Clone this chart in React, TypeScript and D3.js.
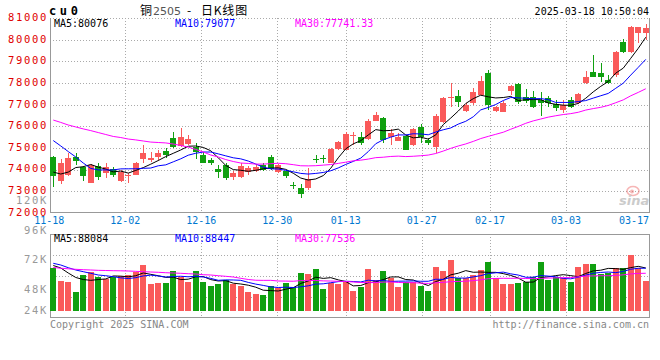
import React from 'react';
import * as d3 from 'd3';

// daily K-line, cu2505, 11-18 .. 03-18
const open = [
  74590, 73450, 73750, 74590, 74110, 73360, 74170, 73850, 74040, 73450,
  73700, 73760, 74470, 74430, 74590, 74870, 75440, 75090, 75180, 75030,
  74670, 74440, 74010, 74210, 73660, 73640, 73900, 73950, 74210, 74590,
  73900, 73940, 73280, 73130, 73130, 74500, 74510, 74290, 74940, 74900,
  75580, 75520, 75400, 76260, 76370, 75490, 75330, 75550, 75130, 75980,
  75370, 75060, 76210, 77330, 77400, 76720, 77070, 77450, 78480, 76720,
  76680, 77650, 77960, 77340, 77340, 77220, 77300, 77030, 76750, 77220,
  77070, 77990, 78530, 78480, 78140, 78380, 79920, 79450, 80310, 80300,
];
const high = [
  74640, 74470, 74750, 74750, 74150, 74250, 74290, 74310, 74110, 74000,
  73860, 74330, 75130, 74820, 74900, 74980, 75750, 75900, 75600, 75210,
  74800, 74520, 74210, 74290, 73920, 74290, 74150, 74200, 74310, 74670,
  74250, 73980, 73400, 73330, 74050, 74670, 74660, 74980, 75330, 75750,
  75750, 75750, 76350, 76680, 76450, 75860, 75700, 75600, 75900, 76110,
  75450, 76550, 77350, 77990, 77680, 77070, 77760, 78330, 78610, 76950,
  77150, 77910, 78000, 77710, 77650, 77600, 77400, 77220, 77220, 77350,
  77560, 78570, 79300, 78940, 78380, 79500, 80020, 80650, 80620, 80750,
];
const low = [
  73210, 73330, 73700, 74210, 73480, 73360, 73510, 73620, 73650, 73400,
  73380, 73750, 74290, 74330, 74400, 74520, 74980, 75060, 75150, 74470,
  74290, 74210, 73590, 73510, 73520, 73600, 73750, 73900, 73950, 73980,
  73850, 73590, 73080, 72700, 73050, 74290, 74300, 74290, 74900, 74880,
  75130, 75130, 75350, 76250, 75210, 75130, 75300, 74880, 75100, 75210,
  75150, 74750, 76150, 76900, 76900, 76650, 77000, 77400, 76750, 76650,
  76650, 77450, 77050, 77100, 76850, 76480, 76900, 76720, 76600, 76850,
  77030, 77950, 78270, 78060, 77950, 78300, 79400, 79380, 79850, 80000,
];
const close = [
  73700, 74290, 74540, 74410, 73710, 74210, 73670, 74110, 73745, 73900,
  73740, 74300, 74750, 74540, 74750, 74650, 75060, 75520, 75410, 74800,
  74320, 74290, 73900, 73620, 73850, 74160, 74050, 74130, 73980, 74010,
  74210, 73700, 73230, 72870, 73550, 74460, 74480, 74930, 75290, 75630,
  75610, 75210, 76260, 76520, 75370, 75680, 75520, 74900, 75860, 75520,
  75240, 76480, 77300, 77370, 77140, 76990, 77600, 78100, 76990, 76880,
  77090, 77860, 77140, 77190, 76910, 77070, 77090, 76830, 76990, 76880,
  77500, 78300, 78300, 78270, 77990, 79450, 79450, 80580, 80580, 80560,
];
const volume = [
  66050, 55290, 54480, 46380, 60140, 62810, 58520, 56900, 58520, 59330,
  60140, 62810, 68240, 52860, 53670, 53670, 63380, 58520, 54480, 63380,
  54480, 51240, 52860, 56090, 52860, 51240, 46380, 44760, 43950, 51240,
  49620, 53670, 50430, 61760, 60950, 65000, 48810, 53420, 52860, 54230,
  47430, 50190, 65000, 56090, 63380, 57960, 50670, 54230, 54230, 51480,
  47430, 66860, 63380, 72280, 57960, 57960, 60140, 64430, 70910, 57960,
  52860, 52860, 53670, 54230, 58520, 70910, 56090, 58520, 57960, 54720,
  66620, 69040, 69040, 60710, 62000, 65810, 65810, 76330, 65810, 55290,
];

// averages before a full window exists (earlier sessions are off the chart)
const ma5Head = [73880, 73790, 73880, 74090];
const ma10Head = [75340, 75090, 74830, 74580, 74300, 74050, 73980, 73980, 73980];
const ma30Head = [
  76290, 76180, 76060, 75970, 75880, 75800, 75710, 75620, 75530, 75480,
  75410, 75370, 75320, 75270, 75250, 75230, 75180, 75110, 75040, 74930,
  74810, 74670, 74580, 74460, 74370, 74300, 74280, 74250, 74250,
];
const vma5Head = [67830, 65810, 61760, 58120];
const vma10Head = [69610, 68240, 66050, 64190, 62810, 61520, 60140, 59570, 58770];
const vma30Head = [
  66210, 65650, 65160, 64750, 64430, 64190, 63920, 63780, 63620, 63540,
  63380, 63110, 62810, 62570, 62330, 62000, 61760, 61520, 61190, 60950,
  60380, 60140, 59570, 59090, 58520, 57470, 56500, 55900, 55800,
];

const dateLabels = ['11-18', '12-02', '12-16', '12-30', '01-13', '01-27', '02-17', '03-03', '03-17'];
const dateIndex = [0, 10, 20, 30, 39, 49, 58, 68, 78];
const priceTicks = [81000, 80000, 79000, 78000, 77000, 76000, 75000, 74000, 73000, 72000];
const volTicks = [120000, 96000, 72000, 48000, 24000];

const priceHeader = ['MA5:80076', 'MA10:79077', 'MA30:77741.33'];
const volHeader = ['MA5:88084', 'MA10:88447', 'MA30:77536'];

const RED = '#fa5a5a';
const GREEN = '#10a010';
const GRID = '#aaaaaa';
const FRAME = '#999999';
const MONO = '"DejaVu Sans Mono", monospace';

const movingAverage = (values: number[], n: number, head: number[]) =>
  values.map((_, i) => (i < n - 1 ? head[i] : (d3.mean(values.slice(i - n + 1, i + 1)) as number)));

const App: React.FC = () => {
  const left = 50;
  const right = 650;
  const volBase = 311;

  const x = d3.scaleBand<number>().domain(d3.range(close.length)).range([49.5, 649.5]);
  const gridX = d3.scaleLinear().domain([0, 79]).range([49.3, 649.7]);
  const yP = d3.scaleLinear().domain([72000, 81000]).range([212.7, 18.3]);
  const yV = d3.scaleLinear().domain([48000, 96000]).range([290, 230.7]);
  const volRows = d3.scaleLinear().domain([0, 4]).range([234, 318]);

  const cx = (i: number) => (x(i) as number) + x.bandwidth() / 2;
  const snap = (v: number) => Math.round(v) + 0.5;

  const priceLine = d3.line<number>().x((_, i) => cx(i)).y((v) => yP(v));
  const volLine = d3.line<number>().x((_, i) => cx(i)).y((v) => yV(v));

  const ma = [
    { color: '#000000', values: movingAverage(close, 5, ma5Head) },
    { color: '#0000ff', values: movingAverage(close, 10, ma10Head) },
    { color: '#ff00ff', values: movingAverage(close, 30, ma30Head) },
  ];
  const vma = [
    { color: '#000000', values: movingAverage(volume, 5, vma5Head) },
    { color: '#0000ff', values: movingAverage(volume, 10, vma10Head) },
    { color: '#ff00ff', values: movingAverage(volume, 30, vma30Head) },
  ];
  const headerColors = ['#000000', '#0000ff', '#ff00ff'];
  const headerX = [54, 175, 295];

  const innerTicks = dateIndex.slice(1, -1);

  return (
    <svg
      width={660}
      height={360}
      style={{ position: 'fixed', left: 0, top: 0, background: '#fff' }}
      fontFamily={MONO}
    >
      <rect x={0} y={0} width={660} height={360} fill="#fff" />

      {/* top texts */}
      <text x={49} y={15} fontSize={12} fontWeight="bold" letterSpacing={3.6} fill="#000">cu0</text>
      <g fontFamily='"Noto Sans CJK SC", sans-serif' fontSize={12} fill="#000">
        <text x={140} y={15}>铜</text>
        <text x={153} y={15} fontSize={11} fill="#555" fontFamily='"DejaVu Sans", sans-serif'>2505</text>
        <text x={187} y={15}>-</text>
        <text x={201} y={15} letterSpacing={0.8}>日K线图</text>
      </g>
      <text x={649} y={15} fontSize={10} textAnchor="end" fill="#000">2025-03-18 10:50:04</text>

      {/* price grid */}
      <g shapeRendering="crispEdges">
        {priceTicks.slice(0, -1).map((t) => (
          <line key={t} x1={left} x2={right} y1={snap(yP(t))} y2={snap(yP(t))} stroke={GRID} strokeDasharray="1,2" />
        ))}
        {innerTicks.map((k) => (
          <line key={k} x1={snap(gridX(k))} x2={snap(gridX(k))} y1={18} y2={213} stroke={GRID} strokeDasharray="1,2" />
        ))}
        <line x1={left + 0.5} x2={left + 0.5} y1={18} y2={213} stroke={FRAME} />
        <line x1={right - 0.5} x2={right - 0.5} y1={18} y2={213} stroke={FRAME} />
        <line x1={left} x2={right} y1={212.5} y2={212.5} stroke={FRAME} />
      </g>

      {/* volume grid */}
      <g shapeRendering="crispEdges">
        {[1, 2, 3].map((k) => (
          <line key={k} x1={left} x2={right} y1={snap(volRows(k))} y2={snap(volRows(k))} stroke={GRID} strokeDasharray="1,2" />
        ))}
        {innerTicks.map((k) => (
          <line key={k} x1={snap(gridX(k))} x2={snap(gridX(k))} y1={234} y2={318} stroke={GRID} strokeDasharray="1,2" />
        ))}
        <line x1={left} x2={right} y1={234.5} y2={234.5} stroke={FRAME} />
        <line x1={left} x2={right} y1={317.5} y2={317.5} stroke={FRAME} />
        <line x1={left + 0.5} x2={left + 0.5} y1={234} y2={318} stroke={FRAME} />
        <line x1={right - 0.5} x2={right - 0.5} y1={234} y2={318} stroke={FRAME} />
      </g>

      {/* sina watermark */}
      <g opacity={0.5}>
        <ellipse cx={633} cy={191} rx={6} ry={4.5} fill="none" stroke="#f07070" strokeWidth={1.6} />
        <circle cx={632} cy={191.5} r={2} fill="#f07070" />
        <text x={619} y={205} fontSize={13} fontStyle="italic" fontWeight="bold" fill="#999" fontFamily='"DejaVu Sans", sans-serif'>sina</text>
      </g>

      {/* candles */}
      <g shapeRendering="crispEdges">
        {close.map((c, i) => {
          const o = open[i];
          const color = c >= o ? RED : GREEN;
          const mid = Math.round(cx(i));
          const top = yP(Math.max(o, c));
          const h = Math.max(1, Math.abs(yP(o) - yP(c)));
          return (
            <g key={i}>
              <line x1={mid + 0.5} x2={mid + 0.5} y1={yP(high[i])} y2={yP(low[i])} stroke={color} />
              <rect x={mid - 3} y={top} width={6} height={h} fill={color} />
            </g>
          );
        })}
      </g>

      {/* price MAs */}
      <g fill="none" strokeWidth={1}>
        {ma.map((m) => (
          <path key={m.color} d={priceLine(m.values) as string} stroke={m.color} />
        ))}
      </g>

      {/* volume bars */}
      <g shapeRendering="crispEdges">
        {volume.map((v, i) => (
          <rect
            key={i}
            x={Math.round(cx(i)) - 3}
            y={yV(v)}
            width={6}
            height={volBase - yV(v)}
            fill={close[i] >= open[i] ? RED : GREEN}
          />
        ))}
      </g>
      <g fill="none" strokeWidth={1}>
        {vma.map((m) => (
          <path key={m.color} d={volLine(m.values) as string} stroke={m.color} />
        ))}
      </g>

      {/* headers */}
      {priceHeader.map((t, k) => (
        <text key={t} x={headerX[k]} y={27} fontSize={10} fill={headerColors[k]}>{t}</text>
      ))}
      {volHeader.map((t, k) => (
        <text key={t} x={headerX[k]} y={242} fontSize={10} fill={headerColors[k]}>{t}</text>
      ))}

      {/* price axis */}
      {priceTicks.map((t) => (
        <text key={t} x={48} y={yP(t) + 2.8} fontSize={10.5} letterSpacing={1.7} textAnchor="end" fill="#e00000">{t}</text>
      ))}
      {/* volume axis */}
      {volTicks.map((t) => (
        <text key={t} x={48} y={Math.min(yV(t) + 2.8, 313.5)} fontSize={10.5} letterSpacing={1.7} textAnchor="end" fill="#999">
          {`${t / 1000}K`}
        </text>
      ))}

      {/* date axis */}
      {dateLabels.map((d, k) => (
        <text key={d} x={Math.min(gridX(dateIndex[k]), 634)} y={224} fontSize={10} textAnchor="middle" fill="#0078d0">{d}</text>
      ))}

      <text x={50} y={327.5} fontSize={10} fill="#888">Copyright 2025 SINA.COM</text>
      <text x={649} y={327.5} fontSize={10} textAnchor="end" fill="#888">http://finance.sina.com.cn</text>
    </svg>
  );
};

export default App;
